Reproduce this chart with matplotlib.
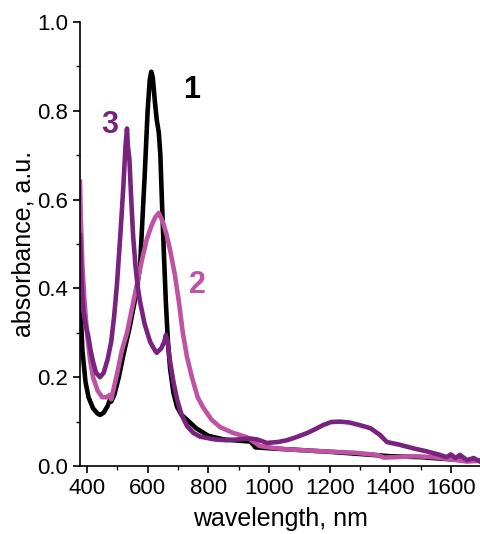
import matplotlib
matplotlib.use("Agg")
import matplotlib.pyplot as plt
from matplotlib.ticker import MultipleLocator

plt.rcParams['font.family'] = ['Liberation Sans', 'DejaVu Sans']

# absorption spectra, wavelength in nm
wl_1 = [377, 385, 395, 405, 420, 435, 443, 455, 468, 476, 480, 490, 505, 520, 540,
        560, 575, 590, 600, 607, 612, 617, 624, 630, 637, 642, 647, 653, 660, 667,
        674, 685, 697, 712, 730, 760, 800, 850, 900, 940, 955, 1000, 1100, 1200,
        1300, 1400, 1500, 1600, 1696]
abs_1 = [0.38, 0.26, 0.19, 0.155, 0.13, 0.118, 0.115, 0.12, 0.135, 0.15, 0.145, 0.16,
         0.2, 0.25, 0.31, 0.38, 0.45, 0.65, 0.80, 0.87, 0.888, 0.875, 0.82, 0.78, 0.75,
         0.70, 0.60, 0.49, 0.37, 0.28, 0.22, 0.165, 0.133, 0.115, 0.104, 0.085, 0.068,
         0.06, 0.057, 0.055, 0.042, 0.04, 0.036, 0.032, 0.027, 0.022, 0.02, 0.015, 0.012]

wl_2 = [377, 380, 385, 392, 400, 410, 420, 435, 450, 465, 475, 480, 485, 500, 515,
        532, 550, 565, 580, 597, 612, 625, 637, 650, 663, 676, 690, 703, 716, 730,
        746, 765, 782, 810, 838, 880, 927, 970, 1000, 1050, 1102, 1150, 1211, 1280,
        1356, 1380, 1420, 1480, 1541, 1600, 1653, 1696]
abs_2 = [0.64, 0.55, 0.45, 0.37, 0.30, 0.24, 0.20, 0.17, 0.155, 0.155, 0.16, 0.15,
         0.165, 0.21, 0.26, 0.30, 0.36, 0.41, 0.46, 0.51, 0.54, 0.56, 0.57, 0.55, 0.52,
         0.48, 0.43, 0.37, 0.30, 0.245, 0.20, 0.155, 0.133, 0.105, 0.088, 0.075, 0.065,
         0.045, 0.042, 0.038, 0.036, 0.034, 0.032, 0.03, 0.025, 0.019, 0.02, 0.022,
         0.02, 0.015, 0.01, 0.012]

wl_3 = [377, 382, 388, 395, 405, 412, 420, 430, 443, 455, 468, 480, 490, 499, 510,
        520, 527, 532, 535, 540, 546, 552, 560, 568, 575, 590, 608, 620, 630, 645,
        655, 660, 666, 673, 685, 697, 712, 730, 750, 773, 820, 862, 900, 937, 960,
        993, 1030, 1059, 1090, 1125, 1150, 1178, 1205, 1234, 1265, 1300, 1335, 1366,
        1389, 1430, 1475, 1520, 1564, 1585, 1600, 1615, 1630, 1653, 1675, 1696]
abs_3 = [0.52, 0.42, 0.35, 0.32, 0.29, 0.26, 0.235, 0.21, 0.20, 0.21, 0.24, 0.28,
         0.34, 0.41, 0.52, 0.63, 0.72, 0.76, 0.72, 0.69, 0.60, 0.52, 0.45, 0.40, 0.37,
         0.32, 0.28, 0.265, 0.255, 0.265, 0.28, 0.295, 0.28, 0.24, 0.19, 0.15, 0.115,
         0.09, 0.075, 0.066, 0.06, 0.058, 0.06, 0.062, 0.06, 0.052, 0.054, 0.058,
         0.065, 0.074, 0.082, 0.092, 0.099, 0.10, 0.098, 0.092, 0.085, 0.07, 0.054,
         0.048, 0.04, 0.033, 0.025, 0.02, 0.026, 0.018, 0.025, 0.013, 0.018, 0.01]

series = [
    ("1", wl_1, abs_1, "#000000", (746, 0.847)),
    ("2", wl_2, abs_2, "#bf52a3", (763, 0.408)),
    ("3", wl_3, abs_3, "#78237e", (476, 0.768)),
]

fig = plt.figure(figsize=(4.8, 5.34), dpi=100)
ax = fig.add_axes([80 / 480, 68 / 534, 400 / 480, 444 / 534])

for name, wl, ab, color, (tx, ty) in series:
    ax.plot(wl, ab, color=color, lw=3.3, solid_joinstyle="round")
    ax.text(tx, ty, name, color=color, fontsize=22, fontweight="bold",
            ha="center", va="center")

ax.set_xlim(377, 1696)
ax.set_ylim(0, 1.0)
ax.xaxis.set_major_locator(MultipleLocator(200))
ax.xaxis.set_minor_locator(MultipleLocator(100))
ax.yaxis.set_major_locator(MultipleLocator(0.2))
ax.yaxis.set_minor_locator(MultipleLocator(0.1))
ax.yaxis.set_major_formatter(lambda v, p: f"{v:.1f}")
ax.tick_params(which="major", direction="out", length=5, width=1.2, labelsize=16)
ax.tick_params(which="minor", direction="out", length=3, width=1.0)
ax.spines["top"].set_visible(False)
ax.spines["right"].set_visible(False)
for s in ("left", "bottom"):
    ax.spines[s].set_linewidth(1.2)

ax.set_xlabel("wavelength, nm", fontsize=18, labelpad=6)
ax.set_ylabel("absorbance, a.u.", fontsize=18, labelpad=1)

fig.savefig("out.png", dpi=100)
